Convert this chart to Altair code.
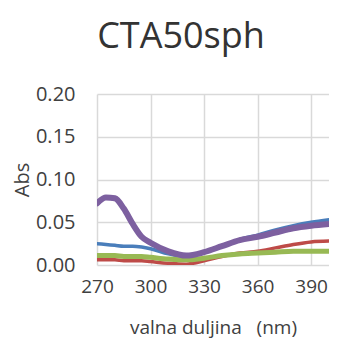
import altair as alt
import pandas as pd

wavelength = [270, 275, 280, 285, 290, 295, 300, 310, 320, 330, 340, 350, 360, 370, 380, 390, 400]
blue = [0.025, 0.024, 0.023, 0.022, 0.022, 0.021, 0.019, 0.013, 0.010, 0.015, 0.022, 0.030, 0.035, 0.041, 0.046, 0.050, 0.053]
red = [0.006, 0.006, 0.006, 0.005, 0.005, 0.005, 0.004, 0.002, 0.001, 0.005, 0.010, 0.014, 0.016, 0.020, 0.024, 0.027, 0.028]
green = [0.011, 0.011, 0.011, 0.010, 0.010, 0.010, 0.009, 0.007, 0.006, 0.008, 0.011, 0.013, 0.014, 0.015, 0.016, 0.016, 0.016]
purple = [0.072, 0.079, 0.078, 0.066, 0.048, 0.033, 0.026, 0.016, 0.011, 0.015, 0.022, 0.029, 0.033, 0.038, 0.043, 0.046, 0.048]

series = [("s1", blue, "#4A7EBB", 3.5), ("s2", red, "#BE4B48", 3.5),
          ("s3", green, "#98B954", 5), ("s4", purple, "#7D60A0", 6)]

x_ticks = [270, 300, 330, 360, 390]
y_ticks = [0.0, 0.05, 0.10, 0.15, 0.20]

xs = alt.Scale(domain=[270, 400], nice=False, zero=False)
ys = alt.Scale(domain=[0, 0.2], nice=False)

xax = alt.Axis(values=x_ticks, title="valna duljina\u00a0\u00a0\u00a0(nm)", grid=True, gridColor="#d9d9d9",
               gridWidth=1.5, domain=False, ticks=False, labelFontSize=19,
               labelColor="#404040", titleFontSize=19, titleColor="#404040",
               titleFontWeight="normal", labelPadding=12, titlePadding=22,
               labelFlush=False, labelOverlap=False,
               labelFont="Open Sans", titleFont="Open Sans")
yax = alt.Axis(values=y_ticks, format=".2f", title="Abs", grid=True, gridColor="#d9d9d9",
               gridWidth=1.5, domain=False, ticks=False, labelFontSize=20,
               labelColor="#404040", titleFontSize=20, titleColor="#404040",
               titleFontWeight="normal", labelPadding=22, titlePadding=3,
               labelFlush=False, labelOverlap=False,
               labelFont="Open Sans", titleFont="Open Sans")

layers = []
for name, vals, col, w in series:
    df = pd.DataFrame({"wl": wavelength, "abs": vals})
    layers.append(
        alt.Chart(df).mark_line(color=col, strokeWidth=w, interpolate="monotone", strokeCap="round", clip=True)
        .encode(x=alt.X("wl:Q", scale=xs, axis=xax), y=alt.Y("abs:Q", scale=ys, axis=yax))
    )

chart = alt.layer(*layers).properties(
    width=232, height=171,
    title=alt.TitleParams("CTA50sph", fontSize=36, font="Open Sans", fontWeight="normal",
                          color="#333333", anchor="middle", offset=28, dx=-32),
    autosize=alt.AutoSizeParams(type="none"),
    padding={"left": 89, "top": 86, "right": 0, "bottom": 76},
).configure_view(stroke=None)

chart.save("out.html", embed_options={"renderer": "svg", "actions": False})
